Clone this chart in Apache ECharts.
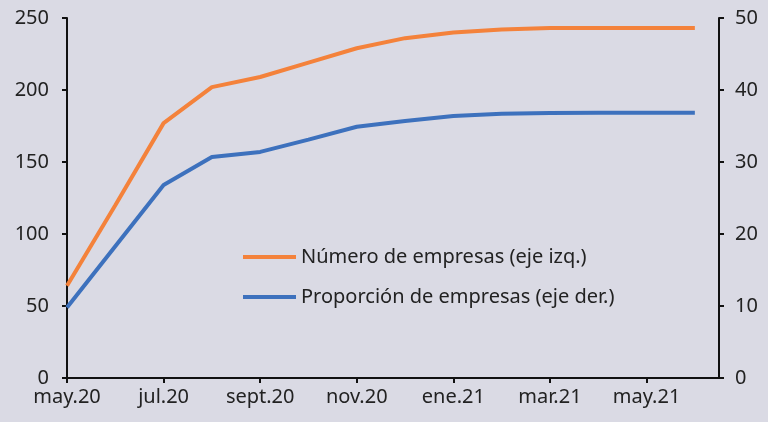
<!DOCTYPE html>
<html>
<head>
<meta charset="utf-8">
<script src="https://cdn.jsdelivr.net/npm/echarts@6/dist/echarts.min.js"></script>
<style>
  html, body { margin: 0; padding: 0; background: #dadae4; }
  #chart { width: 768px; height: 422px; }
</style>
</head>
<body>
<div id="chart"></div>
<script>
// months from may.20 (0) to jun.21 (13)
const months = ['may.20', 'jun.20', 'jul.20', 'ago.20', 'sept.20', 'oct.20', 'nov.20',
  'dic.20', 'ene.21', 'feb.21', 'mar.21', 'abr.21', 'may.21', 'jun.21'];
const numEmpresas = [64, 120, 177, 202, 209, 219, 229, 236, 240, 242, 243, 243, 243, 243];
const propEmpresas = [9.8, 18.3, 26.8, 30.7, 31.4, 33.1, 34.9, 35.7, 36.4, 36.7, 36.8, 36.85, 36.85, 36.85];
const seriesNames = ['Número de empresas (eje izq.)', 'Proporción de empresas (eje der.)'];

const font = 'Noto Sans';
const axisColor = '#111';

let chart = echarts.init(document.getElementById('chart'));
chart.setOption({
  backgroundColor: '#dadae4',
  animation: false,
  textStyle: { fontFamily: font, color: '#222' },
  grid: { left: 67, right: 49, top: 18, bottom: 44 },
  legend: {
    orient: 'vertical',
    left: 238,
    top: 240,
    icon: 'rect',
    itemWidth: 53,
    itemHeight: 4,
    itemGap: 16,
    textStyle: { fontFamily: font, fontSize: 20, lineHeight: 24, color: '#222' },
    data: seriesNames
  },
  xAxis: {
    type: 'value',
    min: 0,
    max: 13.5,
    interval: 2,
    axisLine: { lineStyle: { color: axisColor, width: 2 } },
    axisTick: { length: 5, lineStyle: { color: axisColor, width: 2 } },
    splitLine: { show: false },
    axisLabel: {
      fontSize: 20, color: '#222', margin: 9,
      showMaxLabel: false,
      formatter: v => months[v] || ''
    }
  },
  yAxis: [
    {
      type: 'value', min: 0, max: 250, interval: 50,
      axisLine: { show: true, lineStyle: { color: axisColor, width: 2 } },
      axisTick: { show: true, length: 5, lineStyle: { color: axisColor, width: 2 } },
      splitLine: { show: false },
      axisLabel: { fontSize: 20, color: '#222', margin: 18 }
    },
    {
      type: 'value', min: 0, max: 50, interval: 10,
      axisLine: { show: true, lineStyle: { color: axisColor, width: 2 } },
      axisTick: { show: true, length: 5, lineStyle: { color: axisColor, width: 2 } },
      splitLine: { show: false },
      axisLabel: { fontSize: 20, color: '#222', margin: 16 }
    }
  ],
  series: [
    {
      name: seriesNames[0],
      type: 'line',
      yAxisIndex: 0,
      symbol: 'none',
      color: '#f4823b',
      lineStyle: { width: 4 },
      data: numEmpresas.map((v, i) => [i, v])
    },
    {
      name: seriesNames[1],
      type: 'line',
      yAxisIndex: 1,
      symbol: 'none',
      color: '#3d71bd',
      lineStyle: { width: 4 },
      data: propEmpresas.map((v, i) => [i, v])
    }
  ]
});
</script>
</body>
</html>
